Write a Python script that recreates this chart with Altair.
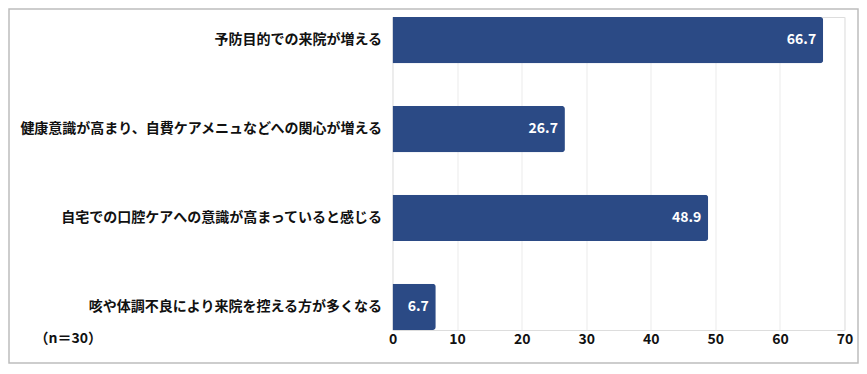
import altair as alt
import pandas as pd

categories = [
    "予防目的での来院が増える",
    "健康意識が高まり、自費ケアメニュなどへの関心が増える",
    "自宅での口腔ケアへの意識が高まっていると感じる",
    "咳や体調不良により来院を控える方が多くなる",
]
values = [66.7, 26.7, 48.9, 6.7]
note = "（n＝30）"

df = pd.DataFrame({"cat": categories, "val": values, "lbl": [f"{v:.1f}" for v in values]})
FONT = "Noto Sans CJK JP"
W, H = 452, 313

y_enc = alt.Y("cat:N", sort=categories, title=None,
              scale=alt.Scale(paddingInner=0.48, paddingOuter=0.0),
              axis=alt.Axis(labelFont=FONT, labelFontSize=14, labelFontWeight="bold",
                            labelColor="#111", labelPadding=11, ticks=False, domain=False,
                            labelLimit=400))
x_enc = alt.X("val:Q", title=None,
              scale=alt.Scale(domain=[0, 70], nice=False),
              axis=alt.Axis(values=[0, 10, 20, 30, 40, 50, 60, 70], labelFont=FONT,
                            labelFontSize=14, labelFontWeight="bold", labelColor="#111",
                            labelFlush=False,
                            ticks=False, domain=False, gridColor="#ebebeb", labelPadding=2))

border = alt.Chart(pd.DataFrame({"a": [0]})).mark_rect(
    fill=None, stroke="#bdbdbd", strokeWidth=1.5
).encode(x=alt.value(-383.5), x2=alt.value(W + 13.5), y=alt.value(-8), y2=alt.value(H + 33))

bars = alt.Chart(df).mark_bar(color="#2b4a85", cornerRadiusEnd=3).encode(x=x_enc, y=y_enc)

labels = alt.Chart(df).mark_text(
    align="right", baseline="middle", dx=-7, color="white", font=FONT,
    fontSize=14, fontWeight="bold"
).encode(x=alt.X("val:Q"), y=alt.Y("cat:N", sort=categories), text="lbl:N")

note_txt = alt.Chart(pd.DataFrame({"t": [note]})).mark_text(
    align="left", baseline="middle", font=FONT, fontSize=14, fontWeight="bold", color="#111"
).encode(x=alt.value(-358), y=alt.value(H + 9), text="t:N")

chart = alt.layer(border, bars, labels, note_txt).properties(
    width=W, height=H, autosize="none",
    padding={"left": 384.5, "top": 9, "right": 14.5, "bottom": 36}
).configure_view(stroke=None).configure(background="white")

chart.save("out.html", embed_options={"renderer": "svg", "actions": False})
